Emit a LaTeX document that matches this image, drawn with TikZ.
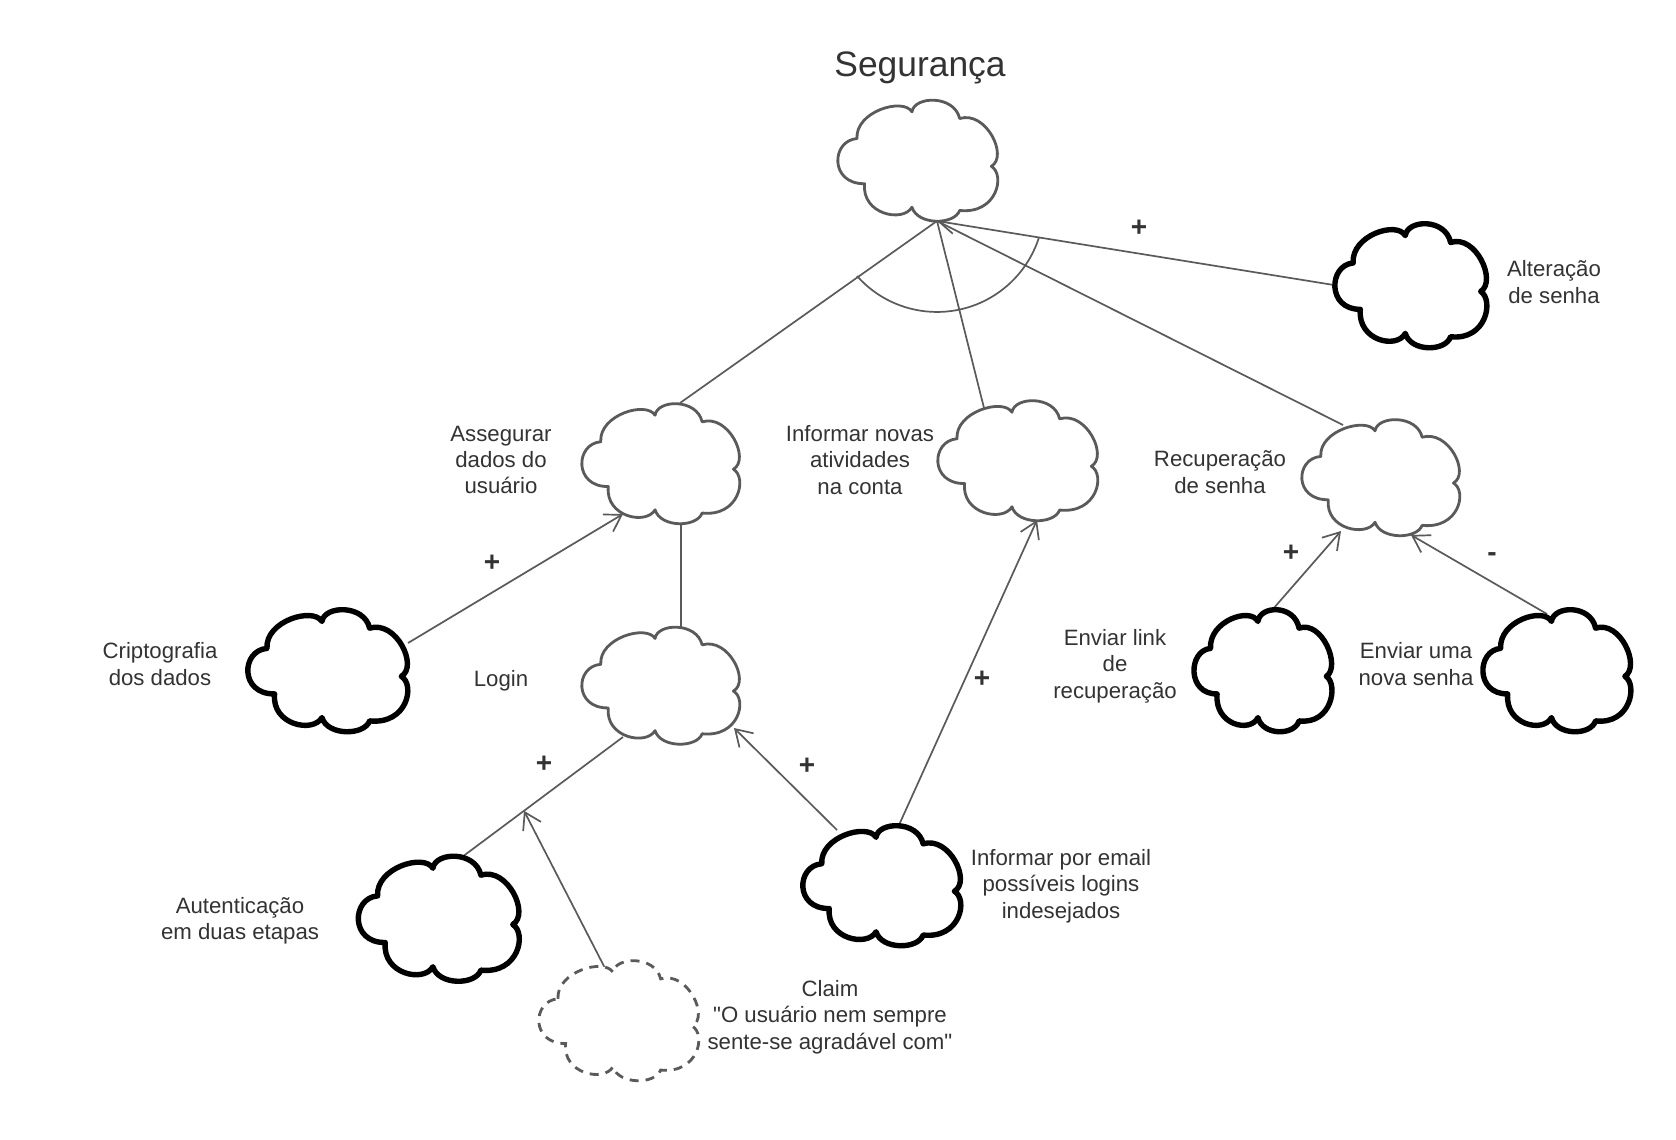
\documentclass[tikz,border=0pt]{standalone}
\usepackage{fontspec}
\setmainfont{Liberation Sans}
\newfontfamily\qfont{Liberation Sans}
\usetikzlibrary{arrows.meta,calc}
\definecolor{lineg}{HTML}{5A5A5A}
\definecolor{txt}{HTML}{333333}
% invisible anchor node for a cloud
\newcommand{\cloudnode}[5]{%
  \node[name=#1, minimum width=#4*0.5pt, minimum height=#5*0.5pt, inner sep=0pt, outer sep=0pt, draw=none] at (#2,#3) {};}
% cloud outline drawn over the node box
\newcommand{\cloudshape}[4]{%
  \draw[#4, shift={(#1.north west)}, xscale=#2, yscale=#3]
    (0.1125,0.323) .. controls (0.10,0.10) and (0.40,-0.02) .. (0.456,0.102)
    .. controls (0.47,-0.03) and (0.72,-0.04) .. (0.754,0.157)
    .. controls (0.92,0.09) and (1.06,0.47) .. (0.952,0.552)
    .. controls (1.04,0.62) and (0.99,0.95) .. (0.754,0.917)
    .. controls (0.72,1.04) and (0.49,1.04) .. (0.456,0.890)
    .. controls (0.40,1.02) and (0.14,0.95) .. (0.160,0.696)
    .. controls (-0.06,0.70) and (-0.05,0.34) .. cycle;}
\begin{document}
\begin{tikzpicture}[x=0.5pt,y=-0.5pt,
  gcloud/.style={draw=lineg, line width=1.4pt, fill=white, line join=round},
  bcloud/.style={draw=black, line width=2.7pt, fill=white, line join=round},
  dcloud/.style={draw=lineg, line width=1.4pt, fill=white, dash pattern=on 4.5pt off 3.5pt},
  conn/.style={draw=lineg, line width=0.85pt},
  arr/.style={conn, -{Straight Barb[length=8pt,width=10pt]}},
  lbl/.style={text=txt, align=center, inner sep=0pt, font=\fontsize{11.1}{13.2}\selectfont},
  sgn/.style={text=txt, inner sep=0pt, font=\fontsize{14}{16}\selectfont\bfseries},
]
\useasboundingbox (0,0) rectangle (1676,1140);
\fill[white] (0,0) rectangle (1676,1140);

% nodes (cloud boxes)
\cloudnode{top}{919}{160}{160}{121}
\cloudnode{ass}{662}{463}{158}{120}
\cloudnode{inf}{1019}{460}{160}{120}
\cloudnode{rec}{1382}{477}{158}{116}
\cloudnode{alt}{1412}{285}{152}{124}
\cloudnode{cri}{329}{670}{160}{122}
\cloudnode{log}{662}{685}{158}{117}
\cloudnode{lnk}{1264}{670}{138}{122}
\cloudnode{nov}{1558}{670}{148}{122}
\cloudnode{aut}{440}{918}{161}{125}
\cloudnode{ema}{883}{885}{158}{120}
\cloudnode{clm}{620}{1020}{160}{120}

% ports
\coordinate (tip) at ($(top.center)+(18,61)$);
\coordinate (arcC) at ($(tip)+(0,-16)$);
\coordinate (arcS) at ($(arcC)+(-80,71)$);
\coordinate (assT) at ($(ass.center)+(18,-60)$);
\coordinate (infT) at ($(inf.center)+(-35,-52)$);
\coordinate (recT) at ($(rec.center)+(-39,-52)$);
\coordinate (altL) at ($(alt.center)+(-72,1)$);
\coordinate (criR) at ($(cri.center)+(79,-27)$);
\coordinate (assBL) at ($(ass.center)+(-39,51)$);
\coordinate (assB) at ($(ass.center)+(19,60)$);
\coordinate (logT) at ($(log.center)+(19,-58)$);
\coordinate (logBL) at ($(log.center)+(-39,52)$);
\coordinate (autT) at ($(aut.center)+(18,-58)$);
\coordinate (clmT) at ($(clm.center)+(-13,-48)$);
\coordinate (hMid) at ($(logBL)!0.6!(autT)$);
\coordinate (emaTL) at ($(ema.center)+(-46,-55)$);
\coordinate (logBR) at ($(log.center)+(72,43)$);
\coordinate (emaT) at ($(ema.center)+(16,-60)$);
\coordinate (infB) at ($(inf.center)+(18,60)$);
\coordinate (lnkT) at ($(lnk.center)+(9,-61)$);
\coordinate (recBL) at ($(rec.center)+(-41,54)$);
\coordinate (novT) at ($(nov.center)+(-11,-56)$);
\coordinate (recB) at ($(rec.center)+(29,58)$);

% connectors
\draw[conn] (tip) -- (assT);
\draw[conn] (tip) -- (infT);
\draw[conn] (tip) -- (recT);
\draw[arr] (altL) -- (tip);
\draw[conn] (arcS) arc[start angle=138.4, end angle=17.9, radius=107];
\draw[arr] (criR) -- (assBL);
\draw[conn] (assB) -- (logT);
\draw[conn] (logBL) -- (autT);
\draw[arr] (clmT) -- (hMid);
\draw[arr] (emaTL) -- (logBR);
\draw[arr] (emaT) -- (infB);
\draw[arr] (lnkT) -- (recBL);
\draw[arr] (novT) -- (recB);

% cloud outlines
\cloudshape{top}{160}{121}{gcloud}
\cloudshape{ass}{158}{120}{gcloud}
\cloudshape{inf}{160}{120}{gcloud}
\cloudshape{rec}{158}{116}{gcloud}
\cloudshape{alt}{152}{124}{bcloud}
\cloudshape{cri}{160}{122}{bcloud}
\cloudshape{log}{158}{117}{gcloud}
\cloudshape{lnk}{138}{122}{bcloud}
\cloudshape{nov}{148}{122}{bcloud}
\cloudshape{aut}{161}{125}{bcloud}
\cloudshape{ema}{158}{120}{bcloud}
\cloudshape{clm}{160}{120}{dcloud}

% labels
\node[lbl, font=\fontsize{17.7}{21}\selectfont] (tSeg) at (920,68) {Segurança};
\node[lbl] (tAss) at (501,460) {Assegurar\\dados do\\usuário};
\node[lbl] (tInf) at (860,460) {Informar novas\\atividades\\na conta};
\node[lbl] (tRec) at (1220,472) {Recuperação\\de senha};
\node[lbl] (tAlt) at (1554,282) {Alteração\\de senha};
\node[lbl] (tCri) at (160,664) {Criptografia\\dos dados};
\node[lbl] (tLog) at (501,681) {Login};
\node[lbl] (tLnk) at (1115,666) {Enviar link\\de\\recuperação};
\node[lbl] (tNov) at (1416,664) {Enviar uma\\nova senha};
\node[lbl] (tAut) at (240,921) {Autenticação\\em duas etapas};
\node[lbl] (tEma) at (1061,886) {Informar por email\\possíveis logins\\indesejados};
\node[lbl, font=\qfont\fontsize{11.1}{13.2}\selectfont] (tClm) at (830,1017) {Claim\\"O usuário nem sempre\\sente-se agradável com"};

% contribution signs
\node[sgn] (s1) at (1139,228) {+};
\node[sgn] (s2) at (492,563) {+};
\node[sgn] (s3) at (544,764) {+};
\node[sgn] (s4) at (807,766) {+};
\node[sgn] (s5) at (982,679) {+};
\node[sgn] (s6) at (1291,553) {+};
\node[sgn] (s7) at (1492,557) {-};
\end{tikzpicture}
\end{document}
